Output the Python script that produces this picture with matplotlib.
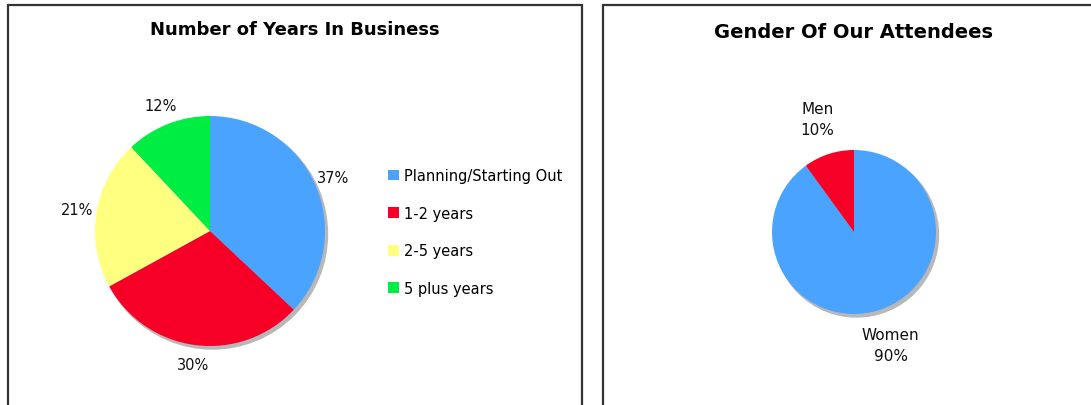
import matplotlib
matplotlib.use("Agg")
import matplotlib.pyplot as plt
from matplotlib.patches import Circle

# ---- data ----
years_labels = ["Planning/Starting Out", "1-2 years", "2-5 years", "5 plus years"]
years_values = [37, 30, 21, 12]
years_colors = ["#4aa3ff", "#f70028", "#ffff80", "#00ee44"]

gender_labels = ["Women", "Men"]
gender_values = [90, 10]
gender_colors = ["#4aa3ff", "#f70028"]

W, H = 1091, 406
fig = plt.figure(figsize=(W / 100, H / 100), dpi=100)
ax = fig.add_axes([0, 0, 1, 1])

def Y(y):
    return H - y

def reset():
    ax.set_xlim(0, W)
    ax.set_ylim(0, H)
    ax.set_aspect("equal")
    ax.axis("off")

reset()

# panel borders
for (x0, x1) in [(8, 582), (603, 1200)]:
    ax.plot([x0, x0, x1, x1], [-10, Y(6), Y(6), -10], color="#333333", lw=1.6,
            solid_joinstyle="miter", clip_on=False)

# ---- left pie ----
c1 = (210, Y(232)); r1 = 115
ax.add_patch(Circle((c1[0] + 2.5, c1[1] - 3), r1, color="#b8b8b8", zorder=1))
wedges, texts, autotexts = ax.pie(
    years_values, colors=years_colors, startangle=90, counterclock=False,
    center=c1, radius=r1, autopct=lambda p: f"{p:.0f}%", pctdistance=1.17,
    wedgeprops=dict(linewidth=0), frame=True,
    textprops=dict(fontsize=10.5, color="#111111"))
for w in wedges:
    w.set_zorder(2)
reset()

ax.text(295, Y(30), "Number of Years In Business", ha="center", va="center",
        fontsize=13, fontweight="bold")

# legend
leg = ax.legend(wedges, years_labels, loc="center left",
                bbox_to_anchor=(381 / W, 1 - 233 / H), frameon=False,
                fontsize=10.5, handlelength=0.75, handleheight=0.75,
                handletextpad=0.3, labelspacing=1.55, borderpad=0)

# ---- right pie ----
c2 = (854, Y(233)); r2 = 82
ax.add_patch(Circle((c2[0] + 2.5, c2[1] - 3), r2, color="#b8b8b8", zorder=1))
wedges2, texts2 = ax.pie(
    gender_values, colors=gender_colors, startangle=90, counterclock=False,
    center=c2, radius=r2,
    labels=[f"{l}\n{v}%" for l, v in zip(gender_labels, gender_values)],
    labeldistance=1.45, wedgeprops=dict(linewidth=0), frame=True,
    textprops=dict(fontsize=11, color="#111111", linespacing=1.45))
for w in wedges2:
    w.set_zorder(2)
for t in texts2:
    t.set_ha("center")
reset()

ax.text(853, Y(32), "Gender Of Our Attendees", ha="center", va="center",
        fontsize=14, fontweight="bold")

fig.savefig("out.png", dpi=100)
